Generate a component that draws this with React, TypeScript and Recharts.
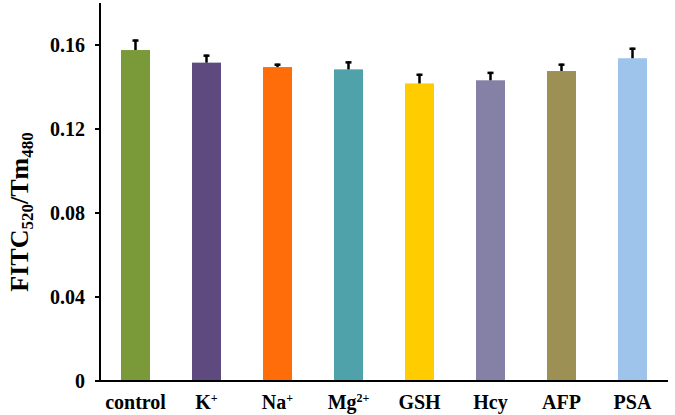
import React from 'react';
import { BarChart, Bar, XAxis, YAxis, Cell } from 'recharts';

const categories = ['control', 'K+', 'Na+', 'Mg2+', 'GSH', 'Hcy', 'AFP', 'PSA'];
const values = [0.1576, 0.1516, 0.1495, 0.1484, 0.1417, 0.1432, 0.1476, 0.1537];
const errors = [0.005, 0.0038, 0.0016, 0.0038, 0.0046, 0.004, 0.0035, 0.005];
const colors = ['#7A9A3A', '#5F4A80', '#FF6C0A', '#4FA2AA', '#FFCC00', '#8580A6', '#9C9055', '#9EC4EB'];
const yTicks = [0, 0.04, 0.08, 0.12, 0.16];

const data = categories.map((c, i) => ({ name: c, value: values[i], err: errors[i], color: colors[i] }));

const FONT = '"Liberation Serif", "Times New Roman", serif';

const renderLabel = (name: string) => {
  const m = name.match(/^([A-Za-z]+)(\d*[+-])$/);
  if (!m) return name;
  return (
    <>
      {m[1]}
      <tspan dy={-7} fontSize={12}>{m[2]}</tspan>
    </>
  );
};

const XTick = (props: any) => {
  const { x, y, payload } = props;
  return (
    <text x={x} y={y + 20} textAnchor="middle" fontFamily={FONT} fontWeight="bold" fontSize={20} fill="#000">
      {renderLabel(payload.value)}
    </text>
  );
};

const YTick = (props: any) => {
  const { x, y, payload } = props;
  const v = payload.value === 0 ? '0' : payload.value.toFixed(2);
  return (
    <text x={x - 8} y={y + 7} textAnchor="end" fontFamily={FONT} fontWeight="bold" fontSize={20} fill="#000">
      {v}
    </text>
  );
};

// Bar with upward-only error bar; error length scaled via the bar's own pixel/value ratio
const BarWithError = (props: any) => {
  const { x, y, width, height, payload } = props;
  const pxPerUnit = height / payload.value;
  const errPx = payload.err * pxPerUnit;
  const cx = x + width / 2;
  const top = y - errPx;
  return (
    <g>
      <rect x={x} y={y} width={width} height={height} fill={payload.color} />
      <line x1={cx} x2={cx} y1={y} y2={top} stroke="#000" strokeWidth={2.5} />
      <line x1={cx - 3} x2={cx + 3} y1={top + 1} y2={top + 1} stroke="#000" strokeWidth={2.5} />
    </g>
  );
};

export default function App() {
  return (
    <div style={{ position: 'absolute', left: 0, top: 0, background: '#fff' }}>
      <BarChart width={675} height={415} data={data} margin={{ top: 3, right: 7, bottom: 0, left: 0 }} barSize={29}>
        <XAxis
          dataKey="name"
          height={34}
          tickLine={false}
          axisLine={{ stroke: '#000', strokeWidth: 2 }}
          tick={<XTick />}
          interval={0}
        />
        <YAxis
          width={100}
          domain={[0, 0.18]}
          ticks={yTicks}
          tickSize={5}
          tickLine={{ stroke: '#000', strokeWidth: 2 }}
          axisLine={{ stroke: '#000', strokeWidth: 2 }}
          tick={<YTick />}
          allowDataOverflow
        />
        <Bar dataKey="value" isAnimationActive={false} shape={<BarWithError />}>
          {data.map((d, i) => (
            <Cell key={i} fill={colors[i]} />
          ))}
        </Bar>
        <text
          x={0}
          y={0}
          transform="translate(28,212) rotate(-90)"
          textAnchor="middle"
          fontFamily={FONT}
          fontWeight="bold"
          fontSize={26}
          fill="#000"
        >
          FITC
          <tspan dy={5} fontSize={17}>520</tspan>
          <tspan dy={-5}>/Tm</tspan>
          <tspan dy={5} fontSize={17}>480</tspan>
        </text>
      </BarChart>
    </div>
  );
}
